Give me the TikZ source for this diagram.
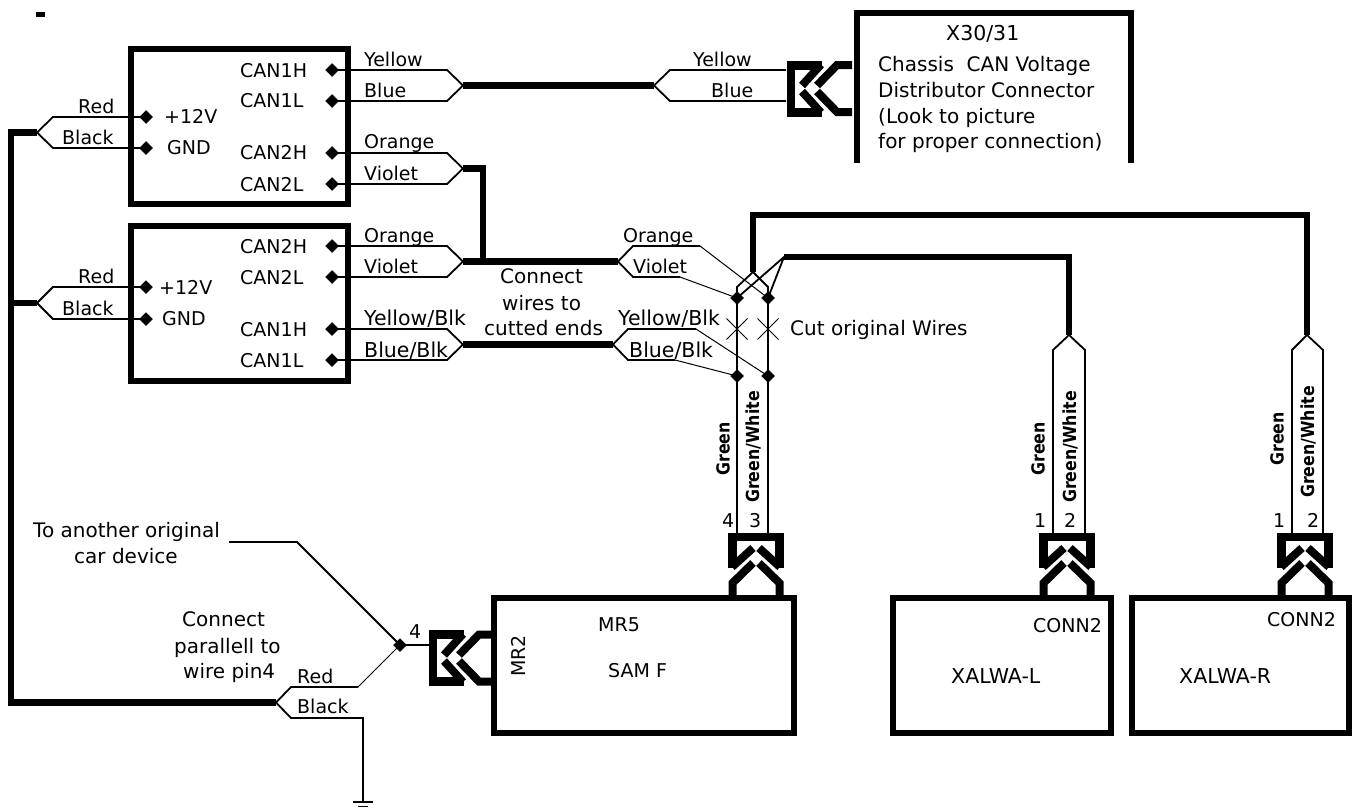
\documentclass[tikz,border=0pt]{standalone}
\usepackage{fontspec}
\setmainfont{DejaVu Sans}
\usetikzlibrary{shapes.geometric}
\newcount\tcnt
\tikzset{
  lbl/.style={inner sep=0pt,anchor=base west},
  blbl/.style={inner sep=0pt,anchor=center,rotate=90,font=\fontsize{18}{20}\selectfont\bfseries},
  mrlbl/.style={inner sep=0pt,anchor=center,rotate=90,font=\fontsize{19}{20}\selectfont},
  pindot/.style={shape=diamond,fill=black,draw=black,line width=0.5pt,inner sep=0pt,minimum width=13pt,minimum height=13pt},
  thickw/.style={line width=6.5pt,line join=miter},
  boxl/.style={line width=6.5pt,line join=miter,line cap=rect},
  unitbox/.style={draw,boxl,inner sep=0pt,outer sep=0pt,anchor=north west},
  wire/.style={line width=1.8pt,line join=miter},
  thinw/.style={line width=1pt,line join=miter},
  conn/.style={line width=8pt,line cap=butt,line join=miter}
}
\newcommand\T[4][19]{\global\advance\tcnt by 1 \node[lbl,font=\fontsize{#1}{22}\selectfont] (lab\the\tcnt) at (#2,#3) {#4};}
\newcommand\G[3]{\global\advance\tcnt by 1 \node[blbl] (lab\the\tcnt) at (#1,#2) {\scalebox{0.88}[1]{#3}};}
% connector drawn upright (box below); rotated 90 it lies with the box to the right
\newcommand\Conn[3]{\begin{scope}[shift={(#1,#2)},rotate=#3]
  \draw[conn] (-23.5,0) -- (-23.5,-15) -- (-3,-35);
  \draw[conn] (23.5,0) -- (23.5,-15) -- (3,-35);
  \draw[conn,line width=9pt] (-23.5,-30) -- (-23.5,-65);
  \draw[conn,line width=9pt] (23.5,-30) -- (23.5,-65);
  \draw[conn] (-23,-61) -- (23,-61);
  \draw[conn] (-24,-31) -- (-3,-50);
  \draw[conn] (24,-31) -- (3,-50);
\end{scope}}
\begin{document}
\begin{tikzpicture}[x=1pt,y=-1pt]
\useasboundingbox (0,0) rectangle (1357,811);
\fill[white] (0,0) rectangle (1357,811);
\fill[black] (36,12) rectangle (45,17);
% boxes
\node[unitbox,minimum width=217pt,minimum height=155pt] (ecuA) at (131,49) {};
\node[unitbox,minimum width=217pt,minimum height=155pt] (ecuB) at (131,226) {};
\node[unitbox,minimum width=300pt,minimum height=135pt] (sam) at (494,598) {};
\node[unitbox,minimum width=218pt,minimum height=135pt] (xl) at (893,598) {};
\node[unitbox,minimum width=217pt,minimum height=135pt] (xr) at (1132,598) {};
\draw[boxl,line cap=butt] (857,163) -- (857,13) -- (1131,13) -- (1131,163);
% pins
\foreach \n/\x/\y in {a1/332/70,a2/332/101,a3/332/153,a4/332/184,b1/332/246,b2/332/277,b3/332/329,b4/332/360,
  pa/146/117,ga/146/148,pb/146/287,gb/146/319,
  j1/737/298,j2/768/298,j3/737/376,j4/768/376,j5/400/645}
  \node[pindot] (\n) at (\x,\y) {};
% tips
\foreach \n/\x/\y in {ta/463/85.5,tb/463/168.5,tc/463/261.5,td/463/344.5,
  te/654/85.5,tf/618/261.5,tg/613/344.5,
  tl1/37/132.5,tl2/37/303,tl3/276/702.5,
  tv1/753/272,tv2/784/257,tv3/1069/335,tv4/1307/335,gnd/363/802}
  \coordinate (\n) at (\x,\y);
% fans at the units
\draw[wire] (a1.center) -- (447,70) -- (ta) -- (447,101) -- (a2.center);
\draw[wire] (a3.center) -- (447,153) -- (tb) -- (447,184) -- (a4.center);
\draw[wire] (b1.center) -- (447,246) -- (tc) -- (447,277) -- (b2.center);
\draw[wire] (b3.center) -- (447,329) -- (td) -- (447,360) -- (b4.center);
\draw[wire] (pa.center) -- (53,117) -- (tl1) -- (53,148) -- (ga.center);
\draw[wire] (pb.center) -- (53,287) -- (tl2) -- (53,319) -- (gb.center);
% thick harness
\draw[thickw] (ta) -- (te);
\draw[thickw] (tb) -- (483,168.5) -- (483,261.5);
\draw[thickw] (tc) -- (tf);
\draw[thickw] (td) -- (tg);
\draw[thickw] (tl1) -- (11,132.5) -- (11,702.5) -- (tl3);
\draw[thickw] (tl2) -- (11,303);
\draw[thickw] (tv1) -- (753,215) -- (1307,215) -- (tv4);
\draw[thickw] (tv2) -- (1069,257) -- (tv3);
% X30 side
\coordinate (xc1) at (786,70); \coordinate (xc2) at (786,101);
\draw[wire] (xc1) -- (670,70) -- (te) -- (670,101) -- (xc2);
% spliced wires
\draw[wire] (tf) -- (633,246) -- (700,246);
\draw[thinw] (700,246) -- (j2.center);
\draw[wire] (tf) -- (633,277) -- (680,277);
\draw[thinw] (680,277) -- (j1.center);
\draw[wire] (tg) -- (628,329) -- (696,329);
\draw[thinw] (696,329) -- (j4.center);
\draw[wire] (tg) -- (628,360) -- (675,360);
\draw[thinw] (675,360) -- (j3.center);
\draw[wire] (j1.center) -- (737,287) -- (tv1) -- (768,287) -- (j2.center);
\draw[wire] (j1.center) -- (tv2) -- (j2.center);
% vertical wires
\coordinate (c1) at (737,534); \coordinate (c2) at (768,534);
\draw[wire] (j1.center) -- (c1);
\draw[wire] (j2.center) -- (c2);
\draw[wire] (1053,534) -- (1053,350) -- (tv3) -- (1085,350) -- (1085,534);
\draw[wire] (1292,534) -- (1292,350) -- (tv4) -- (1323,350) -- (1323,534);
% cuts
\draw[thinw] (726.5,318.5) -- (747.5,339.5) (726.5,339.5) -- (747.5,318.5);
\draw[thinw] (757.5,318.5) -- (778.5,339.5) (757.5,339.5) -- (778.5,318.5);
% connectors
\Conn{756}{598}{0}
\Conn{1067}{598}{0}
\Conn{1305}{598}{0}
\Conn{494}{658}{90}
\Conn{852}{88.5}{90}
% lower left
\draw[wire] (tl3) -- (291,687) -- (358,687);
\draw[thinw] (358,687) -- (j5.center);
\draw[wire] (229,542) -- (297,542) -- (j5.center);
\coordinate (mr) at (431,645);
\draw[wire] (j5.center) -- (mr);
\draw[wire] (tl3) -- (291,718) -- (363,718) -- (gnd);
\draw[wire] (353,802) -- (373,802);
\draw[wire] (358,806.5) -- (368,806.5);
% unit labels
\T{240}{77}{CAN1H}\T{240}{107}{CAN1L}\T{240}{159}{CAN2H}\T{240}{191}{CAN2L}
\T{164}{123}{+12V}\T{167}{154}{GND}
\T{240}{253}{CAN2H}\T{240}{284}{CAN2L}\T{240}{336}{CAN1H}\T{240}{367}{CAN1L}
\T{159}{294}{+12V}\T{162}{325}{GND}
\T{364}{66}{Yellow}\T{364}{97}{Blue}\T{364}{148}{Orange}\T{364}{180}{Violet}
\T{364}{242}{Orange}\T{364}{273}{Violet}\T[20.5]{364}{325}{Yellow/Blk}\T[20.5]{364}{357}{Blue/Blk}
\T{78}{113}{Red}\T{62}{144}{Black}\T{78}{283}{Red}\T{62}{315}{Black}
\T{693}{66}{Yellow}\T{711}{97}{Blue}
\T{623}{242}{Orange}\T{633}{273}{Violet}\T[20.5]{618}{325}{Yellow/Blk}\T[20.5]{629}{357}{Blue/Blk}
\T[20]{500}{283}{Connect}\T[20]{502}{310}{wires to}\T[20]{484}{335}{cutted ends}
\T[20]{790}{335}{Cut original Wires}
\T[20.5]{946}{40}{X30/31}
\T[20]{878}{71}{Chassis\ \ CAN Voltage}\T[20]{878}{97}{Distributor Connector}
\T[20]{878}{123}{(Look to picture}\T[20]{878}{148}{for proper connection)}
\T[20]{33}{537}{To another original}\T[20]{74}{563}{car device}
\T[20]{182}{626}{Connect}\T[20]{174}{653}{parallell to}\T[20]{183}{678}{wire pin4}
\T{297}{683}{Red}\T{297}{713}{Black}
\T{409}{638}{4}
\T{598}{631}{MR5}\T{608}{677}{SAM F}
\T[20.5]{951}{683}{XALWA-L}\T[20.5]{1179}{683}{XALWA-R}
\T{1033}{632}{CONN2}\T{1267}{626}{CONN2}
\T{722}{527}{4}\T{749}{527}{3}\T{1034}{527}{1}\T{1064}{527}{2}\T{1273}{527}{1}\T{1307}{527}{2}
\G{723}{449}{Green}\G{753}{447}{Green/White}
\G{1038}{449}{Green}\G{1070}{447}{Green/White}
\G{1277}{439}{Green}\G{1308}{442}{Green/White}
\global\advance\tcnt by 1
\node[mrlbl] (lab\the\tcnt) at (518,656) {MR2};
\end{tikzpicture}
\end{document}
